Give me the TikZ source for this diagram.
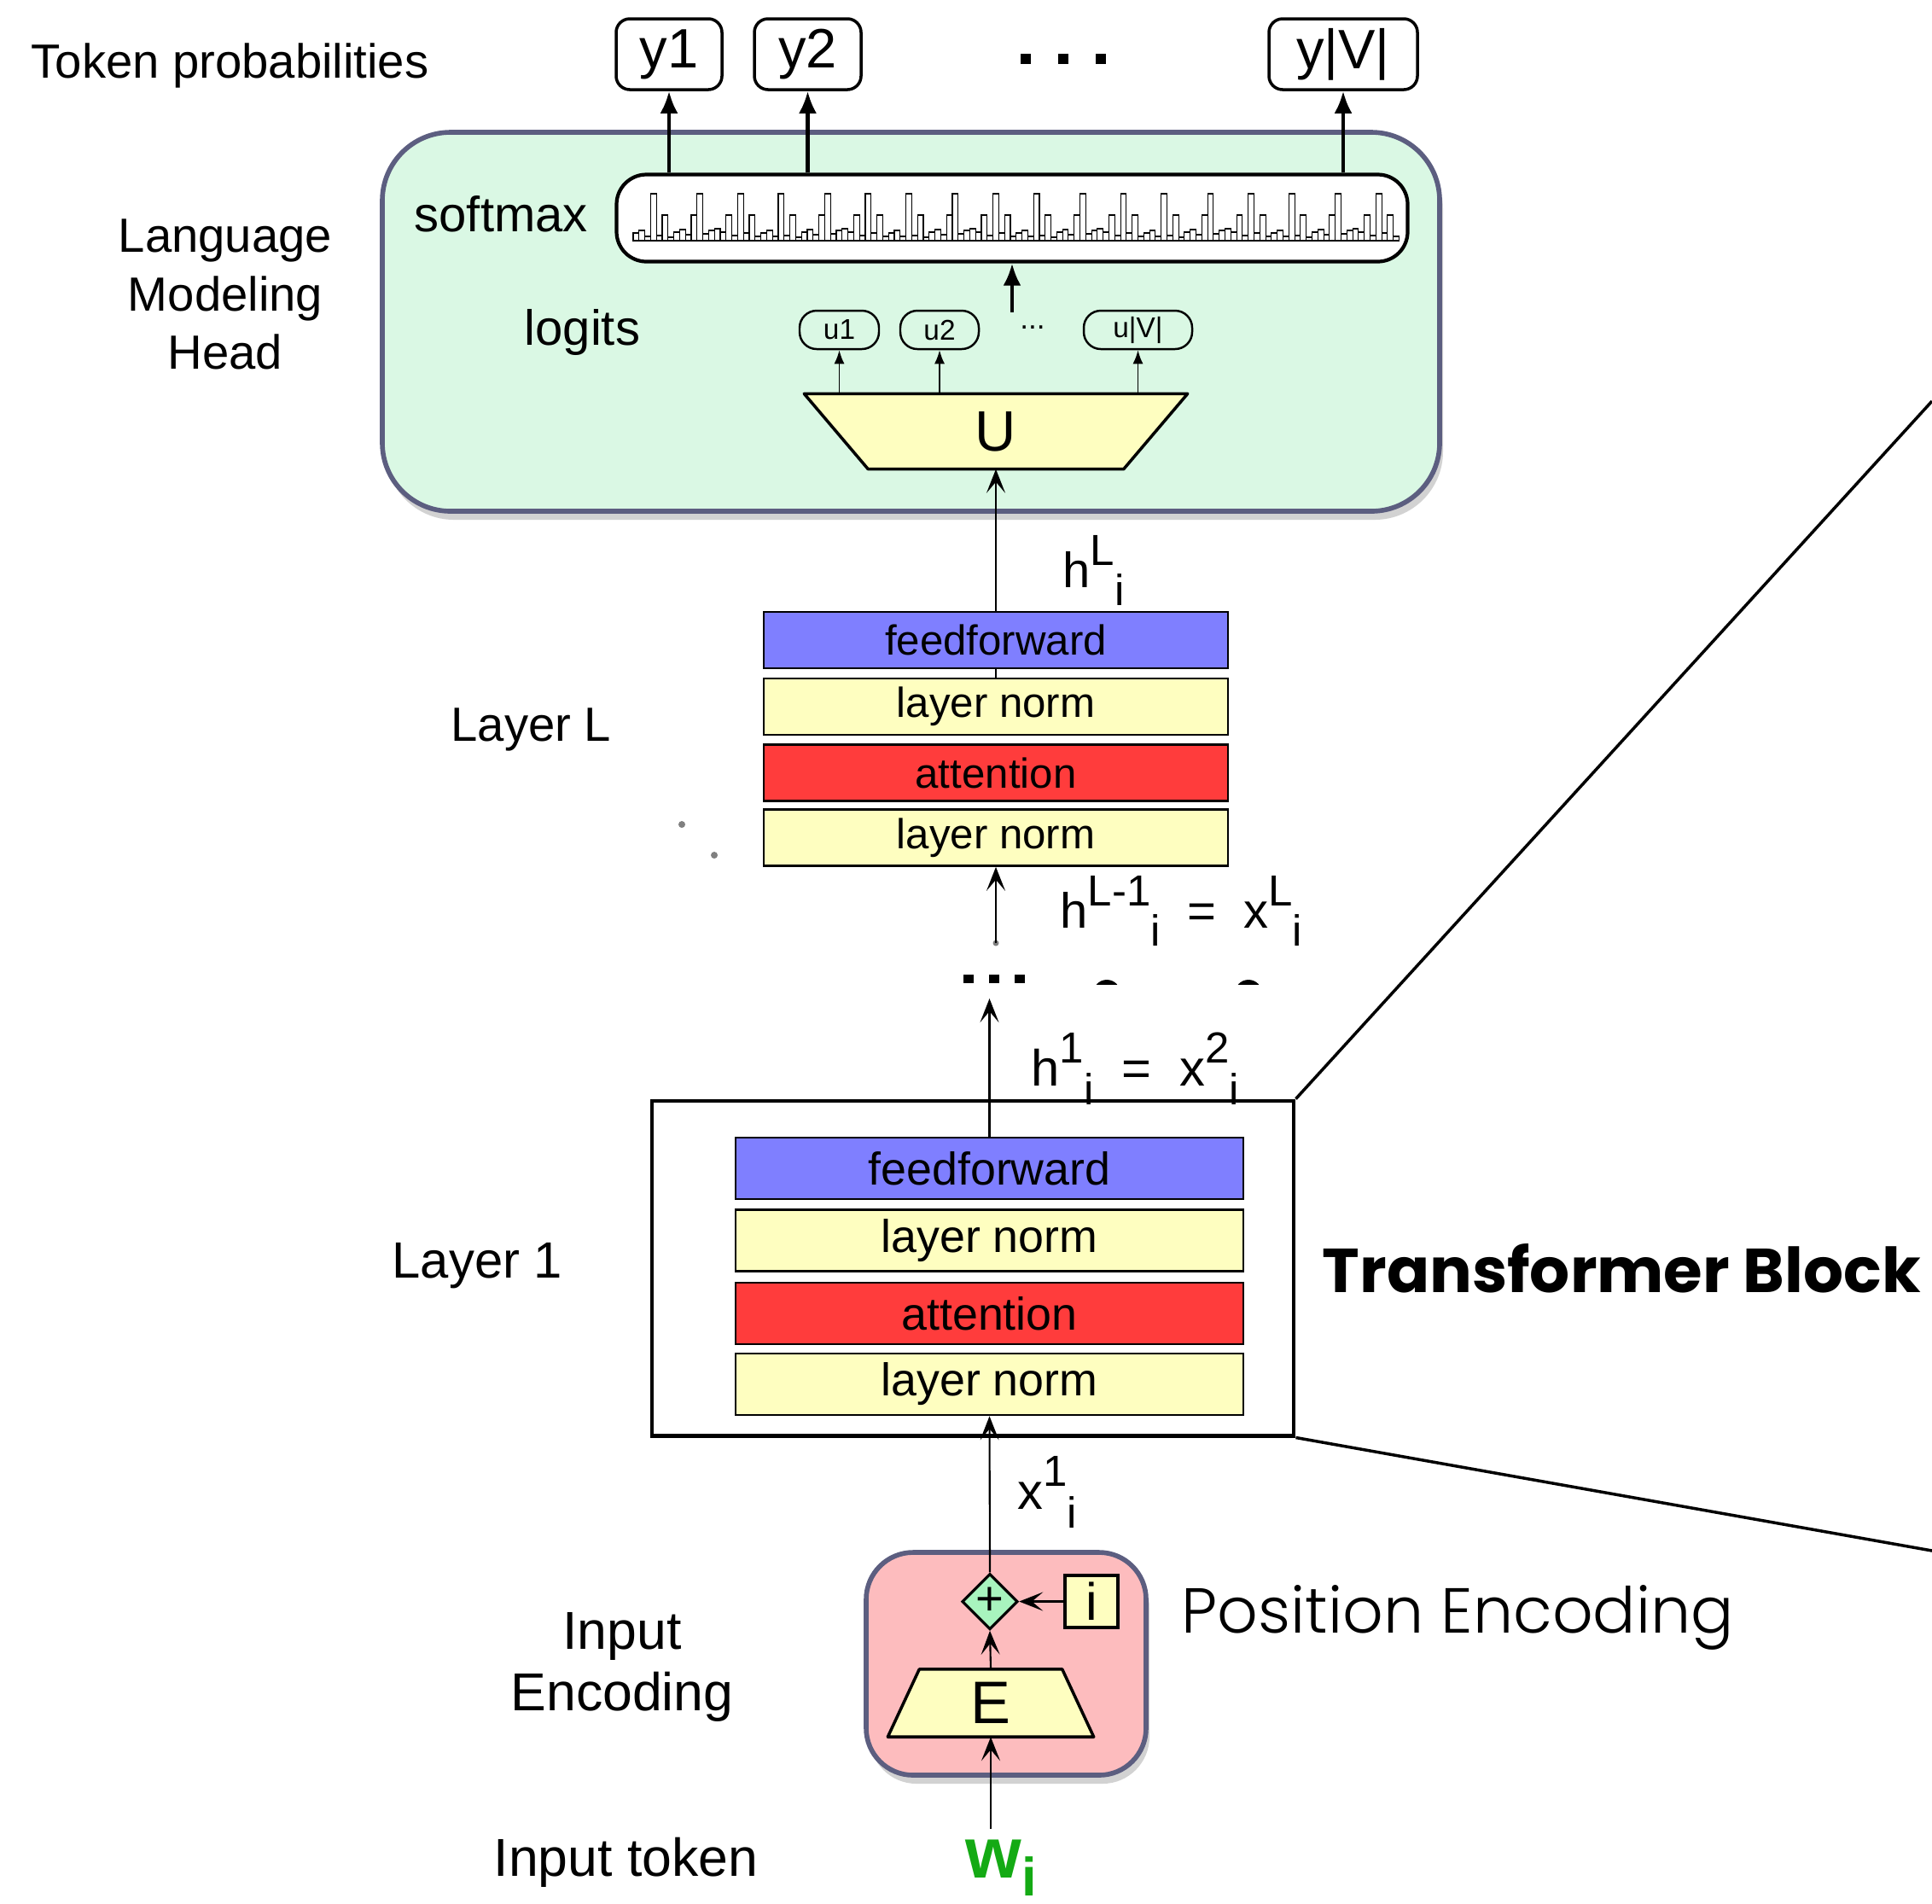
\documentclass[tikz,border=0pt]{standalone}
\usepackage{fontspec}
\setmainfont{Liberation Sans}
\IfFontExistsTF{Poppins Bold}{\newfontfamily\headfont{Poppins Bold}}{\newfontfamily\headfont{Liberation Sans Bold}}
\IfFontExistsTF{Poppins Light}{\newfontfamily\thinfont{Poppins Light}}{\newfontfamily\thinfont{Liberation Sans}}
\usepackage{graphicx}
\usepackage{tikz}
\usetikzlibrary{positioning, shapes.geometric, arrows.meta,
                shadows, fit, backgrounds, calc}
\usepackage{xcolor}

\definecolor{ffblue}{RGB}{127,127,255}
\definecolor{lnyellow}{RGB}{254,254,192}
\definecolor{attred}{RGB}{255,60,60}
\definecolor{headgreen}{RGB}{218,248,228}
\definecolor{encpink}{RGB}{253,188,190}
\definecolor{frameslate}{RGB}{92,94,128}
\definecolor{plusgreen}{RGB}{168,244,190}
\definecolor{tokgreen}{RGB}{20,170,20}

\newcommand{\fs}[1]{\fontsize{#1}{#1}\selectfont}
\newcommand{\hiup}[1]{\raisebox{0.44em}{\fontsize{14.5}{14.5}\selectfont #1}}
\newcommand{\lodn}[1]{\raisebox{-0.37em}{\fontsize{14.5}{14.5}\selectfont #1}}
\newcommand{\eqgap}{\hspace{0.55em}=\hspace{0.55em}}

\begin{document}
\begin{tikzpicture}[
  x=1cm, y=-1cm, >=Stealth,
  lbl/.style={font=\fs{16}, inner sep=0pt},
  lay/.style={draw, line width=0.75pt, minimum height=0.66cm,
              minimum width=5.44cm, inner sep=0pt, font=\fs{14}},
  layone/.style={lay, minimum height=0.72cm, minimum width=5.95cm,
                 font=\fs{15.3}},
  ff/.style={fill=ffblue}, ln/.style={fill=lnyellow}, att/.style={fill=attred},
  ybox/.style={draw, line width=1pt, rounded corners=0.16cm,
               minimum height=0.83cm, inner sep=0pt, font=\fs{18.5}},
  ubox/.style={draw, line width=0.7pt, rounded corners=0.2cm,
               minimum height=0.45cm, inner sep=0pt, font=\fs{9.5}},
  trapfill/.style={draw, line width=1pt, fill=lnyellow, line join=round},
  panel/.style={draw=frameslate, line width=1.6pt,
                drop shadow={shadow xshift=0.04cm, shadow yshift=-0.1cm,
                             opacity=0.35}},
  histbar/.style={draw, fill=white, line width=0.3pt},
  arr/.style={-{Stealth[length=2.8mm,width=2.2mm,inset=1.3mm]}, line width=0.6pt},
  barr/.style={-{Latex[length=2.6mm,width=2.1mm]}, line width=1.2pt},
  uarr/.style={-{Latex[length=1.6mm,width=1.2mm]}, line width=0.5pt},
  zoomline/.style={line width=1pt},
]
\path[use as bounding box, fill=white] (0,0) rectangle (22.64,22.30);

%% ---- Language modeling head ----
\node[panel, fill=headgreen, rounded corners=0.8cm,
      minimum width=12.39cm, minimum height=4.44cm] (lmhead) at (10.675,3.77) {};
\node[draw, line width=1.2pt, fill=white, rounded corners=0.35cm,
      minimum width=9.27cm, minimum height=1.02cm] (smax) at (11.86,2.555) {};

% softmax histogram
\foreach \r in {0,...,5}{
  \foreach \h [count=\k from 0] in {0.09,0.12,0.05,0.55,0.06,0.30,0.04,0.10,
                                    0.13,0.07,0.30,0.55,0.08,0.12,0.14,0.10,
                                    0.30,0.06,0.55,0.09,0.30,0.05}
    \draw[histbar] ({7.42+(\r*22+\k)*0.068},2.82) rectangle ++(0.068,-\h);
}
\draw[line width=0.4pt] (7.42,2.82) -- (16.40,2.82);

\node[ybox, minimum width=1.24cm] (y1) at (7.84,0.635)  {y1};
\node[ybox, minimum width=1.25cm] (y2) at (9.465,0.635) {y2};
\node[ybox, minimum width=1.74cm] (yV) at (15.74,0.635) {y|V|};
\foreach \dx in {12.02,12.46,12.90}
  \fill (\dx-0.06,0.63) rectangle ++(0.12,0.12);

\draw[barr] (y1.south |- smax.north) -- (y1.south);
\draw[barr] (y2.south |- smax.north) -- (y2.south);
\draw[barr] (yV.south |- smax.north) -- (yV.south);

\coordinate (smin) at (11.86,3.66);
\draw[barr] (smin) -- (smin |- smax.south);

\node[ubox, minimum width=0.93cm] (u1) at (9.835,3.865)  {u1};
\node[ubox, minimum width=0.92cm] (u2) at (11.01,3.865)  {u2};
\node[ubox, minimum width=1.27cm] (uV) at (13.335,3.865) {u|V|};
\node[font=\fs{10}, inner sep=0pt] (udots) at (12.10,3.84) {...};

% unembedding: wide on top
\node[minimum width=4.48cm, minimum height=0.87cm, inner sep=0pt] (umat) at (11.67,5.055) {};
\draw[trapfill] (umat.north west) -- (umat.north east)
  -- ($(umat.south east)+(-0.75,0)$) -- ($(umat.south west)+(0.75,0)$) -- cycle;
\node[font=\fs{19}] at (umat.center) {U};

\draw[uarr] (u1.south |- umat.north) -- (u1.south);
\draw[uarr] (u2.south |- umat.north) -- (u2.south);
\draw[uarr] (uV.south |- umat.north) -- (uV.south);

\node[lbl, anchor=base west]  (tokp) at (0.36,0.91) {Token probabilities};
\node[lbl, align=center, font=\fontsize{16}{19.4}\selectfont] (lmh) at (2.64,3.45)
  {Language\\Modeling\\Head};
\node[lbl, anchor=base west, font=\fs{16.5}] (smx) at (4.85,2.71) {softmax};
\node[lbl, anchor=base west, font=\fs{16.5}] (lgt) at (6.14,4.04) {logits};

%% ---- Layer L ----
\node[lay, ff]  (ffL)  at (11.67,7.50)  {feedforward};
\node[lay, ln]  (lnbL) at (11.67,8.28)  {layer norm};
\node[lay, att] (attL) at (11.67,9.055) {attention};
\node[lay, ln]  (lnaL) at (11.67,9.815) {layer norm};

\draw[arr] (ffL.north) -- (umat.south);
\draw[line width=0.6pt] (lnbL.north) -- (ffL.south);
\node[lbl, anchor=base west] (lblL) at (5.28,8.68) {Layer L};
\node[lbl, anchor=base west, font=\fs{16.5}] (hL) at (12.45,6.88) {h\hiup{L}\lodn{i}};

\coordinate (gaptop) at (11.67,11.05);
\fill[gray] (gaptop) circle (0.035);
\draw[arr] (gaptop) -- (lnaL.south);
\node[lbl, anchor=base west, font=\fs{16.5}] (hLm) at (12.42,10.87)
  {h\hiup{L-1}\lodn{i}\eqgap x\hiup{L}\lodn{i}};

\fill[gray] (7.99,9.66) circle (0.04);
\fill[gray] (8.37,10.02) circle (0.04);

% dots between the layers
\foreach \dx in {11.35,11.65,11.95}
  \fill (\dx-0.06,11.42) rectangle ++(0.12,0.10);
\begin{scope}
  \clip (12.5,11.40) rectangle (15.0,11.53);
  \fill (12.97,11.64) circle (0.16);
  \fill (14.63,11.64) circle (0.16);
\end{scope}

%% ---- Layer 1 / transformer block ----
\node[draw, line width=1.4pt, minimum width=7.52cm, minimum height=3.92cm]
  (tblock) at (11.40,14.86) {};
\node[layone, ff]  (ff1)  at (11.595,13.69)  {feedforward};
\node[layone, ln]  (lnb1) at (11.595,14.535) {layer norm};
\node[layone, att] (att1) at (11.595,15.39)  {attention};
\node[layone, ln]  (lna1) at (11.595,16.22)  {layer norm};

\coordinate (gapbot) at (11.595,11.70);
\draw[arr] (ff1.north) -- (gapbot);
\node[lbl, anchor=base west, font=\fs{17}] (h1) at (12.08,12.72)
  {h\hiup{1}\lodn{i}\eqgap x\hiup{2}\lodn{i}};
\node[lbl, anchor=base west, font=\fs{17}] (lbl1) at (4.59,14.97) {Layer 1};

\coordinate (zt) at (22.64,4.70);
\coordinate (zb) at (22.64,18.17);
\draw[zoomline] (tblock.north east) -- (zt);
\draw[zoomline] (tblock.south east) -- (zb);
\node[anchor=base west, inner sep=0pt] (tbl) at (15.49,15.14)
  {\resizebox{7.01cm}{0.57cm}{\headfont Transformer Block}};

%% ---- Input encoding ----
\node[panel, fill=encpink, rounded corners=0.55cm,
      minimum width=3.28cm, minimum height=2.61cm] (inenc) at (11.79,19.495) {};
\node[diamond, draw, line width=0.9pt, fill=plusgreen, inner sep=0pt,
      minimum width=0.62cm, minimum height=0.57cm, font=\fs{16}] (plus) at (11.60,18.765) {+};
\node[draw, line width=0.9pt, fill=lnyellow, minimum width=0.62cm,
      minimum height=0.61cm, inner sep=0pt, font=\fs{17.5}] (ipos) at (12.79,18.765) {i};

% embedding: wide at the bottom
\node[minimum width=2.40cm, minimum height=0.78cm, inner sep=0pt] (emat) at (11.61,19.955) {};
\draw[trapfill] ($(emat.north west)+(0.37,0)$) -- ($(emat.north east)+(-0.37,0)$)
  -- (emat.south east) -- (emat.south west) -- cycle;
\node[font=\fs{20}] at (emat.center) {E};

\draw[arr] (ipos.west) -- (plus.east);
\draw[arr] (emat.north) -- (plus.south);
\draw[arr] (plus.north) -- (lna1.south);
\node[lbl, anchor=base west, font=\fs{17}] (x1) at (11.92,17.68) {x\hiup{1}\lodn{i}};

\node[anchor=base west, inner sep=0pt] (posenc) at (13.84,19.13)
  {\resizebox{6.47cm}{0.56cm}{\thinfont Position Encoding}};

\node[lbl, align=center, font=\fontsize{17.8}{20.5}\selectfont] (ienc) at (7.29,19.53)
  {Input\\Encoding};
\node[lbl, anchor=base west, font=\fs{17.8}] (itok) at (5.78,21.98) {Input token};
\node[anchor=base west, font=\fs{24}\bfseries, text=tokgreen] (wtok) at (11.19,22.00)
  {w\raisebox{-0.26em}{\fs{18}i}};
\draw[arr] (emat.south |- wtok.north) -- (emat.south);

\end{tikzpicture}
\end{document}
